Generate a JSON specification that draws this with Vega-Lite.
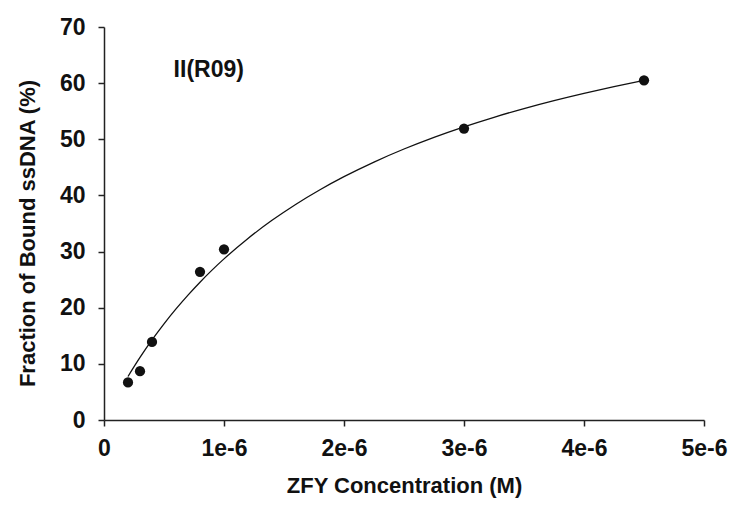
{
  "$schema": "https://vega.github.io/schema/vega-lite/v6.json",
  "width": 600,
  "height": 393,
  "autosize": "none",
  "padding": {"left": 104, "top": 27, "right": 28, "bottom": 85},
  "background": "white",
  "config": {
    "view": {"stroke": null},
    "axis": {
      "grid": false,
      "domainColor": "#222",
      "domainWidth": 1.5,
      "tickColor": "#222",
      "tickWidth": 1.5,
      "tickSize": 6,
      "labelFont": "Liberation Sans",
      "labelFontWeight": "bold",
      "labelFontSize": 23,
      "labelColor": "#111",
      "titleFont": "Liberation Sans",
      "titleFontWeight": "bold",
      "titleFontSize": 22,
      "titleColor": "#111"
    }
  },
  "datasets": {
    "pts": [
      {"conc": 2e-7, "bound": 6.7},
      {"conc": 3e-7, "bound": 8.7},
      {"conc": 4e-7, "bound": 13.9},
      {"conc": 8e-7, "bound": 26.4},
      {"conc": 1e-6, "bound": 30.4},
      {"conc": 3e-6, "bound": 51.9},
      {"conc": 4.5e-6, "bound": 60.5}
    ],
    "fit": [
      {"conc": 2e-7, "bound": 7.750},
      {"conc": 3e-7, "bound": 11.137},
      {"conc": 4e-7, "bound": 14.251},
      {"conc": 5e-7, "bound": 17.125},
      {"conc": 6e-7, "bound": 19.784},
      {"conc": 7e-7, "bound": 22.252},
      {"conc": 8e-7, "bound": 24.549},
      {"conc": 9e-7, "bound": 26.692},
      {"conc": 1e-6, "bound": 28.696},
      {"conc": 1.2e-6, "bound": 32.339},
      {"conc": 1.4e-6, "bound": 35.562},
      {"conc": 1.6e-6, "bound": 38.436},
      {"conc": 1.8e-6, "bound": 41.015},
      {"conc": 2e-6, "bound": 43.340},
      {"conc": 2.25e-6, "bound": 45.945},
      {"conc": 2.5e-6, "bound": 48.266},
      {"conc": 2.75e-6, "bound": 50.347},
      {"conc": 3e-6, "bound": 52.222},
      {"conc": 3.25e-6, "bound": 53.923},
      {"conc": 3.5e-6, "bound": 55.471},
      {"conc": 3.75e-6, "bound": 56.886},
      {"conc": 4e-6, "bound": 58.185},
      {"conc": 4.25e-6, "bound": 59.382},
      {"conc": 4.5e-6, "bound": 60.488}
    ],
    "lab": [
      {"conc": 5.8e-7, "bound": 62.3, "text": "II(R09)"}
    ]
  },
  "layer": [
    {
      "data": {"name": "fit"},
      "mark": {"type": "line", "color": "#111", "strokeWidth": 1.3, "interpolate": "monotone"},
      "encoding": {
        "x": {
          "field": "conc", "type": "quantitative",
          "scale": {"domain": [0, 5e-6], "nice": false},
          "axis": {
            "title": "ZFY Concentration (M)",
            "values": [0, 1e-6, 2e-6, 3e-6, 4e-6, 5e-6],
            "labelExpr": "datum.value == 0 ? '0' : format(datum.value * 1e6, 'd') + 'e-6'",
            "labelPadding": 11,
            "titlePadding": 15,
            "labelFlush": false
          }
        },
        "y": {
          "field": "bound", "type": "quantitative",
          "scale": {"domain": [0, 70], "nice": false},
          "axis": {
            "title": "Fraction of Bound ssDNA (%)",
            "values": [0, 10, 20, 30, 40, 50, 60, 70],
            "labelPadding": 13,
            "titlePadding": 20,
            "titleY": 206,
            "labelFlush": false
          }
        }
      }
    },
    {
      "data": {"name": "pts"},
      "mark": {"type": "point", "filled": true, "color": "#111", "opacity": 1, "size": 105},
      "encoding": {
        "x": {"field": "conc", "type": "quantitative"},
        "y": {"field": "bound", "type": "quantitative"}
      }
    },
    {
      "data": {"name": "lab"},
      "mark": {"type": "text", "align": "left", "baseline": "middle", "font": "Liberation Sans", "fontWeight": "bold", "fontSize": 23, "color": "#111"},
      "encoding": {
        "x": {"field": "conc", "type": "quantitative"},
        "y": {"field": "bound", "type": "quantitative"},
        "text": {"field": "text"}
      }
    }
  ]
}
